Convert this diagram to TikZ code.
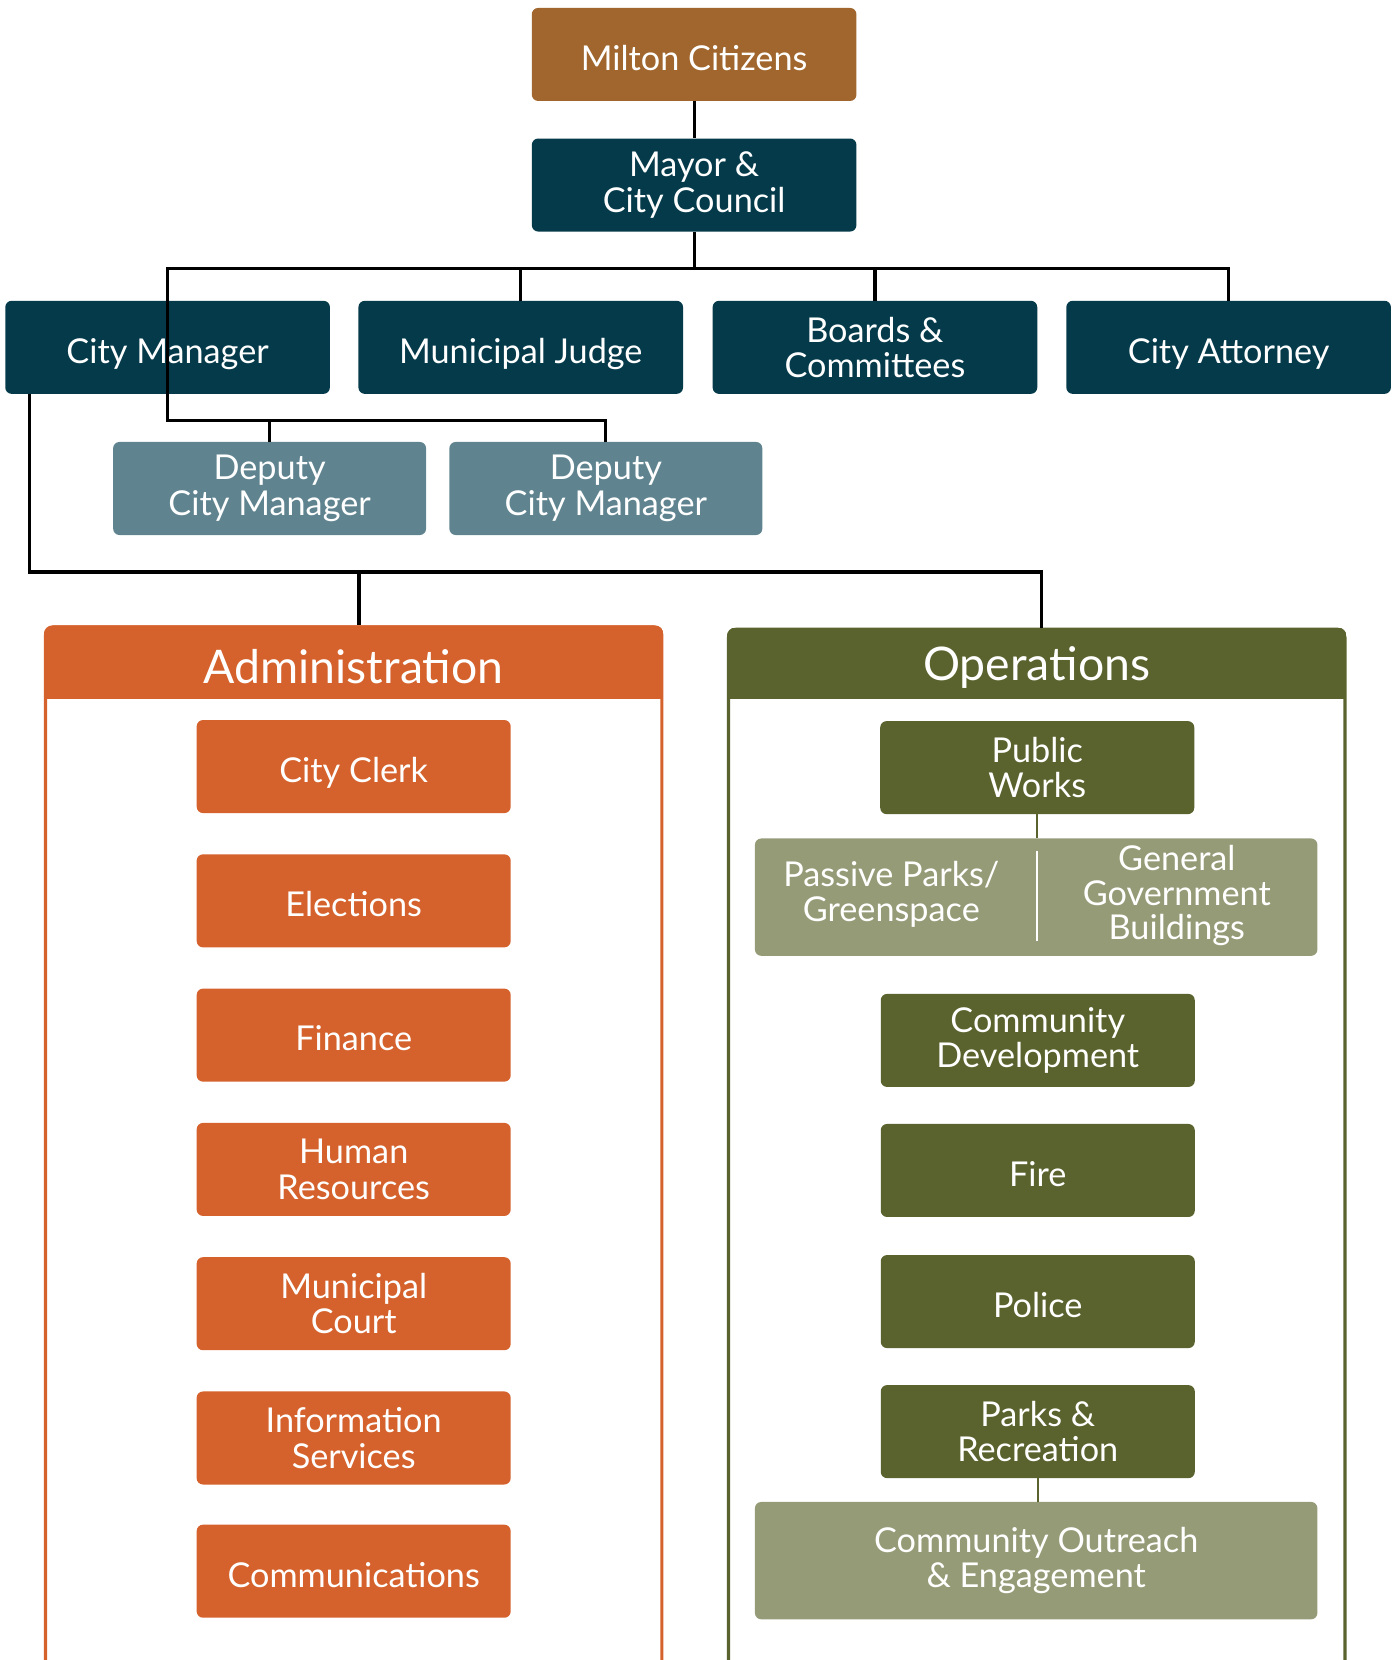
\documentclass[tikz,border=0pt]{standalone}
\usepackage{fontspec}
\setmainfont{Lato}
\usetikzlibrary{positioning}
\definecolor{citizenbrown}{HTML}{A0662D}
\definecolor{councilblue}{HTML}{053A4A}
\definecolor{deputyblue}{HTML}{5F8490}
\definecolor{adminorange}{HTML}{D5622C}
\definecolor{opsolive}{HTML}{5A622D}
\definecolor{opslight}{HTML}{969B77}
\tikzset{block/.style={text=white, text centered, align=center, rounded corners=6bp, inner sep=0pt, minimum height=88bp, minimum width=307bp, font=\fontsize{32.5}{33.5}\selectfont}}
\tikzset{oneline/.style={text height=34bp, text depth=4bp}}
\tikzset{panel/.style={draw, line width=3bp, rounded corners=8bp, minimum width=583bp, minimum height=990bp}}
\tikzset{title/.style={text=white, font=\fontsize{44}{48}\selectfont}}
\tikzset{connect/.style={draw, line width=3bp}}
\tikzset{subconnect/.style={draw=opsolive, line width=2bp}}

\begin{document}
\begin{tikzpicture}[x=1bp,y=-1bp]
\useasboundingbox (0,0) rectangle (1321,1570);

%top
\node[block, oneline, fill=citizenbrown] (citizens) at (656.5,51.5) {Milton Citizens};
\node[block, fill=councilblue] (council) at (656.5,175) {Mayor \&\\City Council};

\node[block, oneline, fill=councilblue] (manager) at (158.5,328.5) {City Manager};
\node[block, oneline, fill=councilblue] (judge) at (492.5,328.5) {Municipal Judge};
\node[block, fill=councilblue] (boards) at (827.5,328.5) {Boards \&\\Committees};
\node[block, oneline, fill=councilblue] (attorney) at (1162,328.5) {City Attorney};

\node[block, fill=deputyblue, minimum width=296bp] (deputy1) at (255,462) {Deputy\\City Manager};
\node[block, fill=deputyblue, minimum width=296bp] (deputy2) at (573,462) {Deputy\\City Manager};

%panels
\node[panel, draw=adminorange] (admin) at (334.5,1088) {};
\begin{scope}
\clip[rounded corners=8bp] (admin.north west) rectangle (admin.south east);
\fill[adminorange] (admin.north west) rectangle ([yshift=-70bp]admin.north east);
\end{scope}
\node[title] (admintitle) at ([yshift=-39bp]admin.north) {Administration};

\node[panel, draw=opsolive] (ops) at (980.5,1090) {};
\begin{scope}
\clip[rounded corners=8bp] (ops.north west) rectangle (ops.south east);
\fill[opsolive] (ops.north west) rectangle ([yshift=-68bp]ops.north east);
\end{scope}
\node[title] (opstitle) at ([yshift=-38bp]ops.north) {Operations};

%administration
\node[block, oneline, fill=adminorange, minimum width=297bp] (clerk) at (334.5,725) {City Clerk};
\node[block, oneline, fill=adminorange, minimum width=297bp] (elections) at ([yshift=-127bp]clerk) {Elections};
\node[block, oneline, fill=adminorange, minimum width=297bp] (finance) at ([yshift=-127bp]elections) {Finance};
\node[block, fill=adminorange, minimum width=297bp] (hr) at ([yshift=-127bp]finance) {Human\\Resources};
\node[block, fill=adminorange, minimum width=297bp] (court) at ([yshift=-127bp]hr) {Municipal\\Court};
\node[block, fill=adminorange, minimum width=297bp] (info) at ([yshift=-127bp]court) {Information\\Services};
\node[block, oneline, fill=adminorange, minimum width=297bp] (comms) at ([yshift=-126bp]info) {Communications};

%operations
\node[block, fill=opsolive, minimum width=297bp] (works) at (981,726) {Public\\Works};
\node[block, fill=opslight, minimum width=532bp, minimum height=111bp] (grounds) at (980,848.5) {};
\node[text=white, align=center, font=\fontsize{32.5}{33.5}\selectfont] (parks) at (843,846) {Passive Parks/\\Greenspace};
\node[text=white, align=center, font=\fontsize{32.5}{33}\selectfont] (buildings) at (1113,847) {General\\Government\\Buildings};
\node[block, fill=opsolive, minimum width=297bp] (development) at (981.5,984) {Community\\Development};
\node[block, oneline, fill=opsolive, minimum width=297bp] (fire) at ([yshift=-123bp]development) {Fire};
\node[block, oneline, fill=opsolive, minimum width=297bp] (police) at ([yshift=-124bp]fire) {Police};
\node[block, fill=opsolive, minimum width=297bp] (recreation) at ([yshift=-123bp]police) {Parks \&\\Recreation};
\node[block, fill=opslight, minimum width=532bp, minimum height=111bp] (outreach) at (980,1476) {Community Outreach\\\& Engagement};

%connectors
\coordinate (bus) at (656.5,254);
\coordinate (dbus) at (158.5,398);
\coordinate (mbus) at (28,541);
\path[connect] (citizens.south) -- (council.north);
\path[connect] (council.south) -- (bus) -| (manager.north);
\path[connect] (bus) -| (judge.north);
\path[connect] (bus) -| (boards.north);
\path[connect] (bus) -| (attorney.north);
\path[connect] (manager.north) -- (dbus) -| (deputy2.north);
\path[connect] (dbus) -| (deputy1.north);
\path[connect] (mbus |- manager.south) -- (mbus) -| ([xshift=4.5bp]ops.north);
\path[connect] (mbus) -| ([xshift=5bp]admin.north);

\path[subconnect] (works.south) -- (works.south |- grounds.north);
\path[draw=white, line width=2bp] ([xshift=1bp,yshift=-12bp]grounds.north) -- ([xshift=1bp,yshift=14bp]grounds.south);
\path[subconnect] (recreation.south) -- (recreation.south |- outreach.north);

\end{tikzpicture}
\end{document}
